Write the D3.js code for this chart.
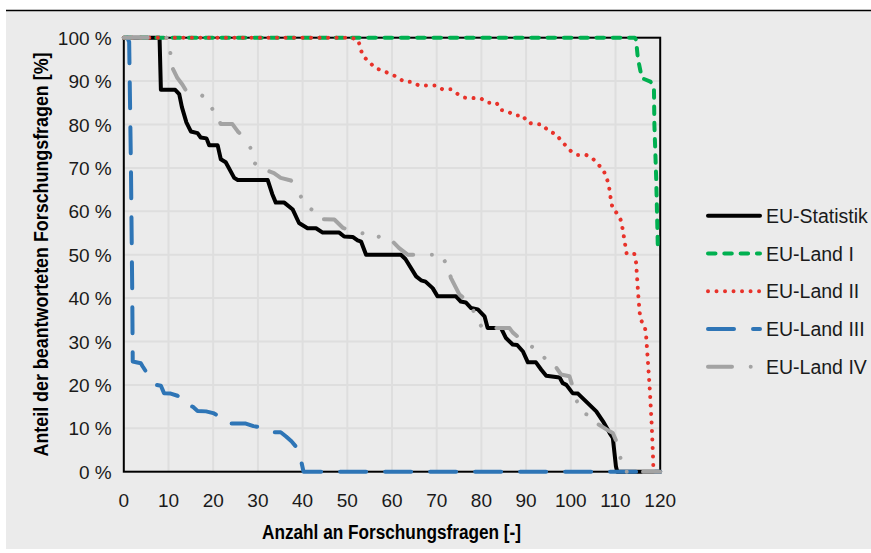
<!DOCTYPE html>
<html>
<head>
<meta charset="utf-8">
<script src="https://cdn.jsdelivr.net/npm/d3@7"></script>
<style>
  body { margin: 0; background: #fff; }
  svg { display: block; font-family: "Liberation Sans", Arial, sans-serif; }
</style>
</head>
<body>
<svg id="chart" width="871" height="553"></svg>
<script>
// values: [Anzahl, Anteil in %]
const xTicks = [0, 10, 20, 30, 40, 50, 60, 70, 80, 90, 100, 110, 120];
const yTicks = [0, 10, 20, 30, 40, 50, 60, 70, 80, 90, 100];

const euStatistik = [[0,100],[8,100],[8.3,88],[11.5,88],[12.4,87],[13,84],[14,80.5],[15,78.4],[16.5,78],[17.2,77],
  [18.5,76.8],[19.1,75.2],[21,75.2],[21.7,72],[22.8,71.3],[24.7,67.7],[25.5,67.2],[32.2,67.2],[33.2,64],[34,62],
  [35.9,62],[37.8,60.4],[39.2,57.3],[41.1,56.1],[43,56.1],[44.5,55.1],[48.2,55.1],[49.3,54.2],[51.2,54.1],[52.3,53.3],
  [53.1,53],[54.2,50],[62,50],[63,49],[65.4,45],[66.5,44.1],[67.5,43.8],[69.1,42.3],[70.2,40.4],[74.3,40.4],
  [75.4,39.2],[76.5,39],[77.7,37.7],[79.2,37.4],[80.7,35.8],[81.4,33.1],[84.4,33.1],[85.5,30.8],[87,29.3],[88,29.2],
  [89.3,27.7],[90.4,25.2],[92.2,25.2],[93.4,23.5],[94.5,22.1],[97.5,21.7],[98.2,20.4],[99,20],[100.4,18.1],[101.6,18],
  [105.7,13.9],[107.2,11.6],[108.7,8.9],[109.4,7.8],[110.1,1.2],[110.4,0],[120,0]];

const euLand1 = [[0,100],[114.3,100],[114.6,99.5],[115,95.3],[115.6,92.2],[116.1,90.6],[117.8,89.9],[118.6,88.4],
  [118.7,80],[119.1,67.7],[119.5,50.4]];

const euLand2 = [[0,100],[51,100],[52.5,99.4],[52.9,97.5],[53.6,95.7],[54.9,94.4],[56.3,93],[57.9,92.4],[59.5,91.7],
  [61.1,91],[62.6,89.9],[64.5,89.8],[66,89],[69.8,89],[71.3,88.1],[73.2,88.1],[74.7,87],[76.2,86.2],[79.9,86],
  [81.4,85],[83.4,85],[84.2,83.4],[85.9,83],[87.4,82.1],[89.3,82.1],[90.2,80.5],[91.9,80.1],[93.6,80],[95.1,78.4],
  [96.7,77.8],[97.8,76.3],[99,75],[100.1,73.8],[101.6,73],[103.4,73],[104.8,72.3],[105.9,71],[107.2,69.7],[107.9,68],
  [108.5,66.1],[109,62.4],[109.4,60.5],[110.5,59.4],[111.3,57.7],[111.9,54],[112.5,50.2],[114.2,50.2],[114.6,48.2],
  [115.1,40.6],[115.4,36.7],[115.7,34.9],[116.5,33.6],[116.8,32],[117.2,26.2],[117.7,18.5],[118.1,10.8],[118.4,3.2],
  [118.5,0]];

const euLand3 = [[0.8,100],[1.2,99],[1.6,70],[1.9,40],[2,25.4],[3.8,25],[4.2,24.3],[5,23],[6.2,21.6],[7.2,20],
  [8.3,19.8],[9,18.1],[10.5,18],[12,17.5],[13.5,16.6],[14.3,15.2],[15.4,15],[16.5,14],[18.4,13.9],[20,13.5],
  [21.6,12.6],[23.1,11.1],[27.3,11.1],[29,10.5],[30.7,10.2],[32.5,9.1],[35.1,9.1],[36.3,8.1],[37.5,7],[38.5,5.8],
  [39.3,4.3],[40.2,0],[120,0]];

const euLand4 = [[0,100],[9.8,100],[10.5,96],[10.9,93],[12,90.7],[13.1,89.2],[13.8,88],[15.4,88],[16.5,87.5],
  [18.1,86.2],[20.2,83],[21.7,80.1],[24.3,80.1],[25.5,78.4],[26.6,77.3],[28.3,74.7],[29.2,71.1],[31,70],[32,69.4],
  [33.6,68.8],[35.1,67.7],[37.4,67.1],[39.1,64.2],[41.1,61.1],[43.7,59.2],[44.5,58.2],[47.1,58.1],[49,56.2],
  [52.2,55.1],[55.7,54.6],[58.9,53.5],[60.1,53.1],[61.6,51.5],[63.5,50],[71,50],[72.5,47.2],[73.2,44.6],[75.1,40.8],
  [77.7,38.7],[78.8,35.2],[80,33.5],[80.7,33.1],[86.3,33.1],[87,32.1],[89.4,30],[92.4,28.1],[94.9,25.4],[96.3,24.7],
  [97.8,22.4],[99.7,22],[100.8,18.3],[101.8,14.7],[103,13.5],[104.5,12.7],[105.7,11.2],[108.7,9.3],[109.4,8.9],
  [110.7,5.8],[111.3,2],[112,0],[120,0]];

const seriesNames = ['EU-Statistik', 'EU-Land I', 'EU-Land II', 'EU-Land III', 'EU-Land IV'];
const seriesData = [euStatistik, euLand1, euLand2, euLand3, euLand4];

// line styles (Excel-ish: solid, dash, round dot, long dash, long dash dot dot)
const styles = [
  { color: '#000000', dash: null },
  { color: '#00b050', dash: '7.5 8.8' },
  { color: '#e8322a', dash: '0.01 8.5' },
  { color: '#2e75b6', dash: '26 19' },
  { color: '#a3a3a3', dash: '24 18.7 0.01 16.7 0.01 16.3' },
];

const svg = d3.select('#chart');

// page background
svg.append('rect').attr('x', 6).attr('y', 11).attr('width', 865).attr('height', 538).attr('fill', '#ebebeb');
svg.append('line').attr('x1', 6).attr('x2', 871).attr('y1', 10.5).attr('y2', 10.5)
  .attr('stroke', '#000').attr('stroke-width', 1.5);

const x = d3.scaleLinear().domain([0, 120]).range([123.8, 660.2]);
const y = d3.scaleLinear().domain([0, 100]).range([471.7, 37.7]);

// grid
const grid = svg.append('g').attr('stroke', '#dedede').attr('stroke-width', 2);
grid.selectAll('.vg').data(xTicks.slice(1, -1)).enter().append('line')
  .attr('x1', d => x(d)).attr('x2', d => x(d)).attr('y1', y(0)).attr('y2', y(100));
grid.selectAll('.hg').data(yTicks.slice(1, -1)).enter().append('line')
  .attr('x1', x(0)).attr('x2', x(120)).attr('y1', d => y(d)).attr('y2', d => y(d));

// plot border
svg.append('rect').attr('x', x(0)).attr('y', y(100))
  .attr('width', x(120) - x(0)).attr('height', y(0) - y(100))
  .attr('fill', 'none').attr('stroke', '#000').attr('stroke-width', 2);

// tick labels
svg.append('g').selectAll('text').data(yTicks).enter().append('text')
  .attr('x', 111.7).attr('y', d => y(d) + 7)
  .attr('text-anchor', 'end').attr('font-size', 19).attr('fill', '#1a1a1a')
  .text(d => d + ' %');

svg.append('g').selectAll('text').data(xTicks).enter().append('text')
  .attr('x', d => x(d)).attr('y', 507)
  .attr('text-anchor', 'middle').attr('font-size', 19).attr('fill', '#1a1a1a')
  .text(d => d);

// axis titles
svg.append('text')
  .attr('x', 391.5).attr('y', 539)
  .attr('text-anchor', 'middle').attr('font-size', 20).attr('font-weight', 'bold')
  .attr('textLength', 259).attr('lengthAdjust', 'spacingAndGlyphs')
  .text('Anzahl an Forschungsfragen [-]');

svg.append('text')
  .attr('transform', 'translate(47.5,254.5) rotate(-90)')
  .attr('text-anchor', 'middle').attr('font-size', 20).attr('font-weight', 'bold')
  .attr('textLength', 404).attr('lengthAdjust', 'spacingAndGlyphs')
  .text('Anteil der beantworteten Forschungsfragen [%]');

// series
const line = d3.line().x(d => x(d[0])).y(d => y(d[1]));

seriesData.forEach((data, i) => {
  svg.append('path')
    .datum(data)
    .attr('d', line)
    .attr('fill', 'none')
    .attr('stroke', styles[i].color)
    .attr('stroke-width', 4)
    .attr('stroke-linecap', 'round')
    .attr('stroke-linejoin', 'round')
    .attr('stroke-dasharray', styles[i].dash);
});

// legend
const legend = svg.append('g');
seriesNames.forEach((name, i) => {
  const ly = 215.7 + i * 37.75;
  legend.append('line')
    .attr('x1', 708).attr('x2', 760).attr('y1', ly).attr('y2', ly)
    .attr('stroke', styles[i].color)
    .attr('stroke-width', 4)
    .attr('stroke-linecap', 'round')
    .attr('stroke-dasharray', styles[i].dash);
  legend.append('text')
    .attr('x', 766).attr('y', ly + 7.2)
    .attr('font-size', 19.5).attr('fill', '#1a1a1a')
    .text(name);
});
</script>
</body>
</html>
